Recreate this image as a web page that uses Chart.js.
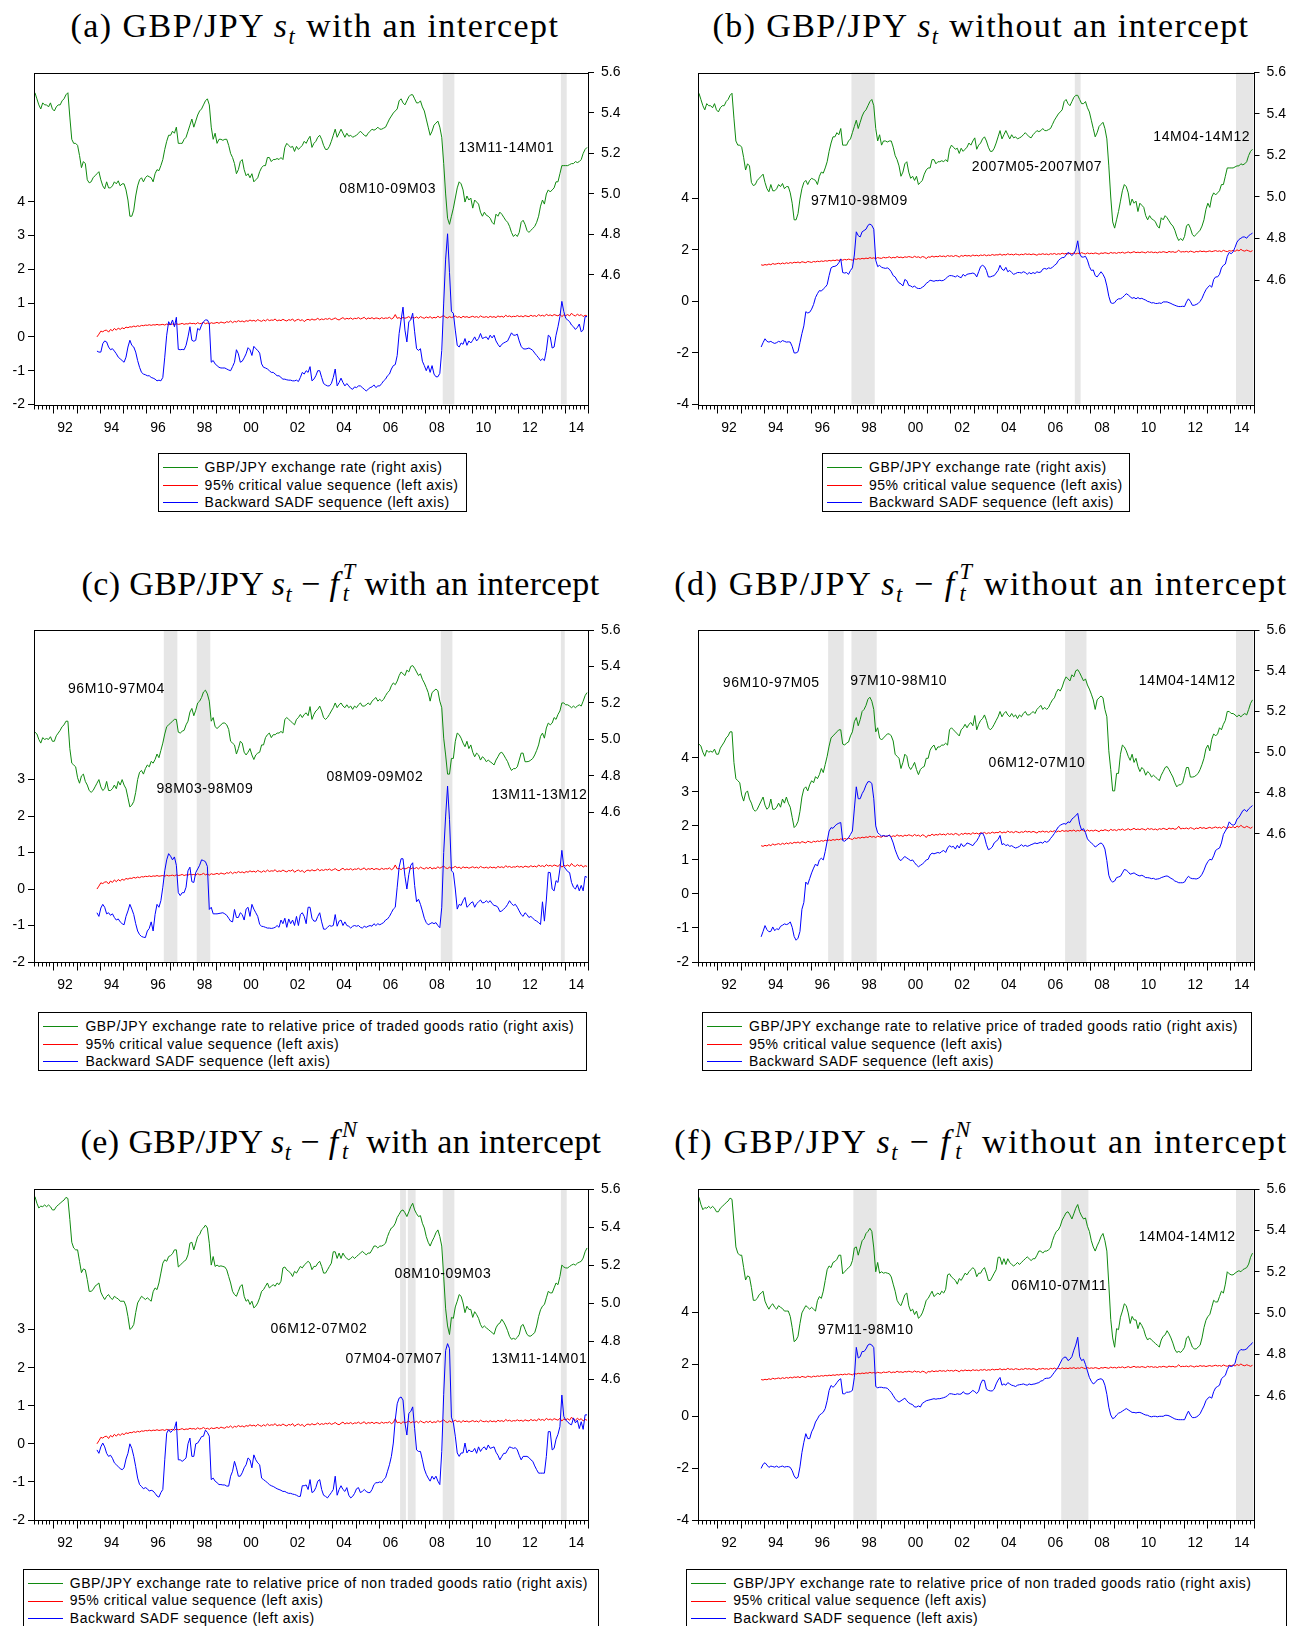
<!DOCTYPE html>
<html>
<head>
<meta charset="utf-8">
<script src="https://cdn.jsdelivr.net/npm/chart.js@4.4.1/dist/chart.umd.min.js"></script>
<style>
  body { margin: 0; width: 1299px; height: 1626px; overflow: hidden; position: relative; background: #fff;
         font-family: "Liberation Sans", Arial, sans-serif; color: #000; }
  canvas { position: absolute; }
  .title { position: absolute; transform: translateX(-50%); white-space: nowrap; height: 40px; line-height: 40px;
           font-family: "Liberation Serif", serif; font-size: 34px; letter-spacing: 1.4px; }
  .title i { font-style: italic; }
  .title sub { font-size: 0.66em; vertical-align: -0.32em; font-style: italic; line-height: 0; }
  .ss { display: inline-flex; flex-direction: column; font-size: 0.66em; line-height: 1; vertical-align: 0.7em;
        font-style: italic; margin-left: 0.16em; }
  .legend { position: absolute; border: 1px solid #000; box-sizing: border-box; background: #fff; }
  .legend .sw { position: absolute; left: 4px; width: 35px; height: 1px; }
  .legend .tx { position: absolute; left: 46px; white-space: nowrap; font-size: 14px; line-height: 16px;
                letter-spacing: 0.5px; transform: translateY(-50%); }
</style>
</head>
<body>
<script>
// monthly GBP/JPY series, 1991M03 - 2014M12 (right axis)
const rateStart = [1991, 3];
const sRate = [
  5.50, 5.47, 5.44, 5.42, 5.45, 5.44, 5.44, 5.43, 5.45, 5.42,
  5.41, 5.43, 5.44, 5.44, 5.46, 5.47, 5.49, 5.50, 5.38, 5.27, 5.25, 5.25,
  5.24, 5.19, 5.13, 5.16, 5.15, 5.07, 5.055, 5.06, 5.08, 5.09, 5.10, 5.11,
  5.07, 5.04, 5.025, 5.06, 5.03, 5.03, 5.04, 5.06, 5.05, 5.065, 5.04, 5.05,
  5.05, 5.02, 4.97, 4.89, 4.89, 4.92, 4.99, 5.04, 5.07, 5.08, 5.06, 5.08,
  5.09, 5.085, 5.08, 5.06, 5.10, 5.12, 5.115, 5.14, 5.17, 5.22, 5.26, 5.29,
  5.29, 5.31, 5.30, 5.33, 5.25, 5.25, 5.25, 5.27, 5.28, 5.31, 5.34, 5.37,
  5.33, 5.36, 5.39, 5.41, 5.42, 5.44, 5.46, 5.47, 5.44, 5.33, 5.27, 5.30,
  5.25, 5.27, 5.27, 5.265, 5.27, 5.27, 5.24, 5.20, 5.18, 5.15, 5.10, 5.12,
  5.16, 5.17, 5.12, 5.09, 5.10, 5.08, 5.10, 5.06, 5.07, 5.08, 5.11, 5.13,
  5.14, 5.14, 5.18, 5.18, 5.16, 5.17, 5.17, 5.175, 5.17, 5.18, 5.17, 5.23,
  5.25, 5.24, 5.23, 5.235, 5.21, 5.235, 5.22, 5.23, 5.24, 5.26, 5.25, 5.27,
  5.285, 5.23, 5.25, 5.26, 5.28, 5.29, 5.27, 5.24, 5.22, 5.22, 5.235, 5.26,
  5.29, 5.32, 5.28, 5.30, 5.32, 5.30, 5.28, 5.30, 5.285, 5.29, 5.28, 5.285,
  5.29, 5.30, 5.31, 5.30, 5.29, 5.285, 5.30, 5.31, 5.32, 5.315, 5.32, 5.33,
  5.32, 5.32, 5.325, 5.33, 5.35, 5.37, 5.385, 5.40, 5.41, 5.42, 5.46, 5.47,
  5.45, 5.44, 5.46, 5.48, 5.49, 5.49, 5.47, 5.45, 5.45, 5.46, 5.43, 5.41,
  5.37, 5.33, 5.29, 5.31, 5.34, 5.35, 5.36, 5.33, 5.28, 5.15, 5.00, 4.88,
  4.85, 4.89, 4.93, 4.98, 5.03, 5.06, 5.05, 5.02, 4.96, 4.99, 4.97, 4.98,
  4.93, 4.97, 4.96, 4.95, 4.91, 4.89, 4.91, 4.895, 4.89, 4.88, 4.86, 4.85,
  4.90, 4.89, 4.91, 4.90, 4.885, 4.87, 4.86, 4.84, 4.81, 4.79, 4.80, 4.79,
  4.81, 4.86, 4.87, 4.85, 4.82, 4.81, 4.82, 4.83, 4.84, 4.86, 4.89, 4.94,
  4.97, 4.95, 5.00, 5.02, 5.01, 5.02, 5.03, 5.06, 5.06, 5.10, 5.14, 5.14,
  5.14, 5.14, 5.145, 5.15, 5.15, 5.16, 5.155, 5.16, 5.17, 5.20, 5.22, 5.23
];
// exchange rate to relative price of traded goods
const sTraded = [
  5.04, 5.03, 5.00, 4.98, 5.01, 5.00, 5.005, 5.00, 5.015, 4.99,
  4.99, 5.02, 5.035, 5.05, 5.07, 5.08, 5.10, 5.10, 4.95, 4.87, 4.86, 4.85,
  4.79, 4.76, 4.80, 4.81, 4.77, 4.75, 4.72, 4.71, 4.72, 4.74, 4.76, 4.78,
  4.74, 4.72, 4.73, 4.77, 4.72, 4.72, 4.73, 4.75, 4.73, 4.77, 4.75, 4.78,
  4.75, 4.73, 4.68, 4.63, 4.64, 4.66, 4.71, 4.78, 4.82, 4.83, 4.81, 4.84,
  4.86, 4.85, 4.88, 4.87, 4.89, 4.92, 4.90, 4.94, 4.98, 5.03, 5.07, 5.08,
  5.09, 5.10, 5.11, 5.11, 5.04, 5.035, 5.045, 5.05, 5.08, 5.10, 5.15, 5.17,
  5.13, 5.16, 5.20, 5.21, 5.23, 5.26, 5.27, 5.25, 5.21, 5.10, 5.12, 5.07,
  5.06, 5.07, 5.08, 5.09, 5.09, 5.08, 5.055, 4.99, 4.98, 4.97, 4.92, 4.95,
  4.99, 4.98, 4.93, 4.915, 4.93, 4.95, 4.915, 4.89, 4.915, 4.925, 4.93, 4.97,
  4.97, 5.01, 5.026, 5.035, 5.01, 5.026, 5.026, 5.035, 5.035, 5.044, 5.035, 5.11,
  5.12, 5.11, 5.10, 5.09, 5.08, 5.11, 5.12, 5.137, 5.12, 5.137, 5.146, 5.13,
  5.18, 5.11, 5.137, 5.156, 5.165, 5.183, 5.156, 5.12, 5.11, 5.12, 5.137, 5.156,
  5.174, 5.20, 5.174, 5.19, 5.20, 5.183, 5.174, 5.19, 5.174, 5.183, 5.165, 5.183,
  5.174, 5.19, 5.20, 5.183, 5.183, 5.19, 5.20, 5.19, 5.21, 5.22, 5.23, 5.21,
  5.22, 5.21, 5.22, 5.24, 5.257, 5.267, 5.294, 5.31, 5.30, 5.32, 5.35, 5.37,
  5.36, 5.35, 5.38, 5.37, 5.40, 5.405, 5.39, 5.37, 5.35, 5.36, 5.33, 5.31,
  5.285, 5.257, 5.21, 5.257, 5.267, 5.276, 5.267, 5.21, 5.174, 5.007, 4.915, 4.81,
  4.81, 4.896, 4.896, 4.99, 5.035, 5.026, 5.007, 4.98, 4.96, 4.99, 4.95, 4.97,
  4.93, 4.905, 4.925, 4.915, 4.887, 4.905, 4.896, 4.878, 4.887, 4.878, 4.87, 4.86,
  4.887, 4.905, 4.925, 4.93, 4.915, 4.896, 4.878, 4.85, 4.83, 4.84, 4.84, 4.85,
  4.887, 4.925, 4.925, 4.878, 4.878, 4.88, 4.887, 4.896, 4.915, 4.94, 4.97, 5.017,
  5.035, 5.007, 5.063, 5.09, 5.08, 5.09, 5.12, 5.11, 5.137, 5.156, 5.20, 5.20,
  5.19, 5.19, 5.183, 5.174, 5.183, 5.174, 5.183, 5.19, 5.183, 5.21, 5.24, 5.257
];
// exchange rate to relative price of non traded goods
const sNonTraded = [
  5.56, 5.525, 5.50, 5.51, 5.507, 5.516, 5.507, 5.516, 5.507, 5.49,
  5.49, 5.507, 5.516, 5.525, 5.534, 5.542, 5.556, 5.55, 5.44, 5.32, 5.29, 5.28,
  5.28, 5.22, 5.16, 5.18, 5.175, 5.124, 5.062, 5.062, 5.071, 5.089, 5.097, 5.106,
  5.058, 5.036, 5.019, 5.036, 5.045, 5.028, 5.019, 5.036, 5.028, 5.022, 5.01, 5.01,
  5.01, 4.984, 4.93, 4.862, 4.87, 4.888, 4.95, 5.001, 5.019, 5.036, 5.028, 5.019,
  5.028, 5.019, 5.01, 5.06, 5.08, 5.071, 5.106, 5.158, 5.21, 5.228, 5.22, 5.245,
  5.25, 5.26, 5.28, 5.28, 5.19, 5.2, 5.21, 5.22, 5.228, 5.254, 5.315, 5.32,
  5.28, 5.315, 5.35, 5.36, 5.385, 5.395, 5.41, 5.395, 5.315, 5.2, 5.245, 5.193,
  5.2, 5.193, 5.196, 5.193, 5.19, 5.175, 5.14, 5.106, 5.062, 5.045, 5.036, 5.062,
  5.089, 5.097, 5.036, 5.01, 5.019, 4.993, 5.01, 4.975, 4.984, 5.001, 5.028, 5.062,
  5.071, 5.089, 5.106, 5.08, 5.089, 5.097, 5.089, 5.106, 5.097, 5.115, 5.185, 5.19,
  5.175, 5.167, 5.158, 5.14, 5.167, 5.158, 5.175, 5.193, 5.185, 5.2, 5.21, 5.22,
  5.21, 5.176, 5.193, 5.193, 5.21, 5.22, 5.193, 5.158, 5.158, 5.175, 5.193, 5.21,
  5.27, 5.27, 5.235, 5.263, 5.235, 5.263, 5.245, 5.235, 5.228, 5.235, 5.245, 5.235,
  5.245, 5.254, 5.263, 5.272, 5.263, 5.254, 5.263, 5.263, 5.28, 5.30, 5.30, 5.29,
  5.30, 5.30, 5.306, 5.315, 5.35, 5.376, 5.395, 5.402, 5.42, 5.45, 5.467, 5.485,
  5.49, 5.475, 5.455, 5.48, 5.507, 5.525, 5.49, 5.47, 5.455, 5.46, 5.42, 5.395,
  5.35, 5.32, 5.30, 5.325, 5.345, 5.37, 5.385, 5.35, 5.30, 5.14, 4.97, 4.88,
  4.835, 4.925, 4.92, 4.98, 5.01, 5.045, 5.036, 5.001, 4.95, 4.984, 4.967, 4.967,
  4.925, 4.955, 4.94, 4.92, 4.888, 4.87, 4.88, 4.87, 4.862, 4.853, 4.845, 4.836,
  4.87, 4.888, 4.895, 4.915, 4.9, 4.88, 4.855, 4.825, 4.81, 4.815, 4.81, 4.82,
  4.835, 4.88, 4.888, 4.862, 4.836, 4.827, 4.827, 4.836, 4.845, 4.88, 4.93, 4.965,
  4.984, 4.993, 5.028, 5.062, 5.054, 5.054, 5.08, 5.106, 5.097, 5.14, 5.2, 5.19,
  5.185, 5.185, 5.193, 5.2, 5.205, 5.2, 5.21, 5.215, 5.22, 5.237, 5.27, 5.29
];

// recursive test sequences, 1993M11 - 2014M12 (left axis)
const testStart = [1993, 11];
const cvWithIntercept = [
  0.0, 0.08,
  0.17, 0.15, 0.19, 0.2, 0.14, 0.22, 0.18, 0.25, 0.2, 0.26, 0.22, 0.27,
  0.24, 0.29, 0.27, 0.3, 0.29, 0.32, 0.3, 0.33, 0.31, 0.34, 0.33, 0.35,
  0.34, 0.36, 0.34, 0.36, 0.35, 0.37, 0.35, 0.36, 0.37, 0.35, 0.38, 0.36,
  0.37, 0.38, 0.36, 0.39, 0.37, 0.38, 0.4, 0.37, 0.39, 0.38, 0.41, 0.39,
  0.4, 0.38, 0.42, 0.39, 0.4, 0.43, 0.39, 0.41, 0.38, 0.42, 0.4, 0.41,
  0.43, 0.4, 0.44, 0.42, 0.41, 0.45, 0.43, 0.47, 0.42, 0.46, 0.44, 0.48,
  0.45, 0.47, 0.44, 0.48, 0.46, 0.5, 0.47, 0.49, 0.46, 0.51, 0.48, 0.46,
  0.5, 0.47, 0.52, 0.48, 0.5, 0.49, 0.53, 0.47, 0.5, 0.48, 0.52, 0.49,
  0.47, 0.51, 0.49, 0.53, 0.46, 0.5, 0.52, 0.48, 0.51, 0.45, 0.5, 0.52,
  0.49, 0.53, 0.5, 0.51, 0.55, 0.5, 0.53, 0.51, 0.54, 0.52, 0.55, 0.51,
  0.53, 0.56, 0.52, 0.5, 0.54, 0.57, 0.52, 0.55, 0.53, 0.56, 0.52, 0.55,
  0.54, 0.57, 0.53, 0.55, 0.58, 0.52, 0.56, 0.54, 0.57, 0.53, 0.56, 0.55,
  0.53, 0.57, 0.54, 0.56, 0.55, 0.58, 0.53, 0.56, 0.66, 0.55, 0.57, 0.53,
  0.58, 0.55, 0.57, 0.6, 0.55, 0.58, 0.56, 0.59, 0.55, 0.6, 0.57, 0.55,
  0.59, 0.56, 0.6, 0.55, 0.58, 0.56, 0.61, 0.57, 0.6, 0.63, 0.58, 0.56,
  0.6, 0.57, 0.59, 0.62, 0.58, 0.6, 0.56, 0.61, 0.58, 0.6, 0.57, 0.59,
  0.61, 0.58, 0.6, 0.57, 0.62, 0.59, 0.58, 0.6, 0.57, 0.61, 0.58, 0.6,
  0.57, 0.62, 0.59, 0.61, 0.58, 0.64, 0.6, 0.62, 0.59, 0.61, 0.6, 0.63,
  0.6, 0.62, 0.59, 0.63, 0.61, 0.6, 0.64, 0.61, 0.63, 0.6, 0.66, 0.62,
  0.64, 0.61, 0.67, 0.63, 0.65, 0.62, 0.66, 0.64, 0.62, 0.67, 0.6, 0.65,
  0.63, 0.66, 0.62, 0.7, 0.64, 0.62, 0.67, 0.63, 0.66, 0.6, 0.64, 0.62
];
const cvNoIntercept = [
  1.42, 1.40,
  1.43, 1.41, 1.45, 1.42, 1.47, 1.44, 1.46, 1.48, 1.45, 1.49, 1.46, 1.5,
  1.47, 1.51, 1.48, 1.52, 1.5, 1.53, 1.49, 1.54, 1.52, 1.5, 1.55, 1.53,
  1.51, 1.55, 1.53, 1.56, 1.54, 1.57, 1.55, 1.58, 1.56, 1.59, 1.57, 1.6,
  1.58, 1.61, 1.59, 1.62, 1.6, 1.63, 1.61, 1.64, 1.62, 1.6, 1.65, 1.63,
  1.66, 1.64, 1.67, 1.65, 1.68, 1.66, 1.7, 1.67, 1.69, 1.66, 1.7, 1.68,
  1.67, 1.71, 1.69, 1.7, 1.73, 1.68, 1.71, 1.69, 1.74, 1.7, 1.72, 1.69,
  1.73, 1.71, 1.74, 1.72, 1.7, 1.75, 1.71, 1.73, 1.69, 1.74, 1.72, 1.66,
  1.73, 1.71, 1.76, 1.72, 1.75, 1.73, 1.77, 1.74, 1.76, 1.73, 1.78, 1.75,
  1.77, 1.74, 1.78, 1.76, 1.72, 1.78, 1.75, 1.79, 1.76, 1.78, 1.75, 1.8,
  1.77, 1.79, 1.76, 1.8, 1.78, 1.81, 1.77, 1.8, 1.78, 1.82, 1.79, 1.81,
  1.8, 1.84, 1.79, 1.82, 1.8, 1.85, 1.81, 1.83, 1.8, 1.84, 1.82, 1.8,
  1.83, 1.81, 1.85, 1.82, 1.84, 1.81, 1.84, 1.82, 1.79, 1.84, 1.82, 1.85,
  1.82, 1.84, 1.81, 1.85, 1.83, 1.86, 1.82, 1.85, 1.83, 1.87, 1.84, 1.86,
  1.84, 1.87, 1.85, 1.88, 1.84, 1.87, 1.85, 1.89, 1.86, 1.84, 1.88, 1.85,
  1.87, 1.85, 1.88, 1.86, 1.83, 1.88, 1.86, 1.89, 1.87, 1.85, 1.9, 1.87,
  1.89, 1.86, 1.9, 1.88, 1.91, 1.87, 1.89, 1.92, 1.88, 1.9, 1.93, 1.89,
  1.91, 1.89, 1.92, 1.9, 1.88, 1.93, 1.9, 1.92, 1.89, 1.91, 1.88, 1.92,
  1.9, 1.93, 1.91, 1.89, 1.94, 1.91, 1.93, 1.9, 1.92, 1.99, 1.91, 1.93,
  1.92, 1.94, 1.91, 1.95, 1.93, 1.9, 1.94, 1.92, 1.96, 1.93, 1.95, 1.92,
  1.94, 1.96, 1.93, 1.95, 1.97, 1.94, 1.96, 1.93, 1.98, 1.95, 1.93, 1.97,
  1.95, 1.98, 1.94, 2.0, 1.96, 2.02, 1.97, 1.95, 1.99, 1.96, 1.93, 1.97
];

const bsadfA = [
  -0.42, -0.45,
  -0.45, -0.2, -0.12, -0.15, -0.3, -0.38, -0.35, -0.42, -0.5, -0.6, -0.65, -0.7,
  -0.75, -0.6, -0.3, -0.1, -0.25, -0.3, -0.45, -0.7, -0.9, -1.05, -1.1, -1.12,
  -1.15, -1.15, -1.2, -1.22, -1.25, -1.3, -1.28, -1.3, -1.2, -0.6, 0.05, 0.45,
  0.35, 0.5, 0.3, 0.58, -0.37, -0.38, -0.37, -0.38, -0.25, 0.0, 0.3, -0.1,
  -0.13, -0.1, 0.25, 0.2, 0.35, 0.45, 0.5, 0.5, 0.4, -0.75, -0.7, -0.8,
  -0.85, -0.9, -0.92, -0.92, -0.92, -0.95, -0.98, -1.0, -0.88, -0.75, -0.38, -0.5,
  -0.75, -0.72, -0.62, -0.5, -0.32, -0.38, -0.55, -0.28, -0.35, -0.4, -0.48, -0.8,
  -0.9, -0.92, -0.95, -1.0, -1.05, -1.05, -1.1, -1.15, -1.15, -1.2, -1.25, -1.25,
  -1.27, -1.28, -1.28, -1.3, -1.3, -1.28, -1.32, -1.2, -1.05, -1.1, -1.0, -1.05,
  -0.88, -1.3, -1.25, -1.15, -1.0, -1.0, -1.2, -1.38, -1.42, -1.45, -1.45, -1.38,
  -1.2, -0.95, -1.45, -1.35, -1.22, -1.35, -1.45, -1.38, -1.45, -1.52, -1.55, -1.48,
  -1.5, -1.45, -1.45, -1.5, -1.55, -1.6, -1.55, -1.5, -1.48, -1.42, -1.5, -1.45,
  -1.45, -1.38, -1.3, -1.25, -1.15, -1.1, -0.95, -0.85, -0.82, -0.55, 0.1, 0.5,
  0.88, 0.2, -0.15, 0.45, 0.5, 0.7, 0.15, -0.35, -0.4, -0.35, -0.72, -0.85,
  -1.0, -0.85, -1.05, -0.85, -1.1, -1.18, -1.18, -1.08, -0.4, 1.0, 2.3, 3.05,
  1.9, 0.75, 0.7, 0.2, -0.25, -0.3, -0.18, -0.22, -0.05, -0.25, -0.12, -0.18,
  -0.1, 0.0, -0.12, -0.05, 0.1, -0.05, -0.02, 0.0, -0.08, 0.05, -0.03, 0.05,
  -0.12, -0.22, -0.3, -0.22, -0.18, -0.15, -0.12, 0.0, 0.12, 0.05, 0.05, 0.08,
  -0.12, -0.28, -0.35, -0.36, -0.35, -0.33, -0.36, -0.4, -0.48, -0.55, -0.62, -0.7,
  -0.65, -0.7, -0.4, 0.05, 0.0, -0.33, -0.3, 0.05, 0.3, 0.6, 1.05, 0.75,
  0.55, 0.5, 0.45, 0.35, 0.3, 0.22, 0.28, 0.38, 0.15, 0.2, 0.6, 0.6
];
const bsadfB = [
  -1.77, -1.6,
  -1.45, -1.55, -1.58, -1.55, -1.6, -1.63, -1.6, -1.55, -1.58, -1.52, -1.55, -1.58,
  -1.57, -1.58, -1.75, -2.0, -2.0, -1.95, -1.6, -1.25, -0.95, -0.4, -0.45, -0.42,
  -0.3, -0.12, 0.15, 0.3, 0.42, 0.4, 0.48, 0.55, 0.65, 1.0, 1.3, 1.35,
  1.36, 1.4, 1.5, 1.65, 1.12, 1.1, 1.12, 1.05, 1.2, 1.3, 1.8, 2.7,
  2.55, 2.5, 2.7, 2.75, 2.8, 2.95, 3.0, 2.95, 2.8, 1.6, 1.35, 1.4,
  1.32, 1.3, 1.28, 1.3, 1.25, 1.15, 1.0, 0.95, 0.82, 0.72, 0.68, 0.6,
  0.85, 0.8, 0.62, 0.6, 0.55, 0.6, 0.52, 0.5, 0.5, 0.55, 0.6, 0.7,
  0.75, 0.82, 0.8, 0.78, 0.81, 0.8, 0.82, 0.8, 0.82, 0.88, 0.95, 1.0,
  1.0, 0.98, 0.95, 1.0, 0.95, 0.92, 1.05, 0.98, 1.05, 1.07, 1.08, 1.1,
  1.07, 0.95, 1.15, 1.35, 1.4, 1.35, 1.2, 0.95, 0.95, 0.98, 1.0, 1.1,
  1.2, 1.4, 1.25, 1.2, 1.32, 1.15, 1.2, 1.12, 1.05, 1.08, 1.12, 1.12,
  1.1, 1.15, 1.12, 1.05, 1.12, 1.07, 1.12, 1.08, 1.15, 1.12, 1.14, 1.25,
  1.28, 1.25, 1.3, 1.28, 1.32, 1.4, 1.45, 1.58, 1.65, 1.7, 1.7, 1.8,
  1.9, 1.85, 1.78, 1.85, 2.0, 2.35, 1.85, 1.72, 1.72, 1.75, 1.6, 1.35,
  1.2, 1.22, 1.0, 0.95, 1.05, 1.15, 1.05, 0.9, 0.6, 0.2, -0.05, -0.08,
  -0.05, 0.05, 0.1, 0.1, 0.15, 0.22, 0.3, 0.25, 0.18, 0.12, 0.15, 0.1,
  0.15, 0.1, 0.12, 0.08, 0.05, 0.0, -0.02, -0.06, -0.05, -0.08, -0.08, -0.06,
  -0.08, -0.02, -0.02, -0.02, -0.05, -0.08, -0.12, -0.15, -0.18, -0.2, -0.2, -0.19,
  -0.2, -0.02, 0.1, 0.0, -0.15, -0.15, -0.12, -0.08, 0.0, 0.12, 0.3, 0.45,
  0.55, 0.62, 0.55, 0.85, 0.95, 0.95, 1.05, 1.3, 1.4, 1.45, 1.75, 1.9,
  1.85, 1.92, 2.1, 2.3, 2.4, 2.45, 2.5, 2.5, 2.45, 2.55, 2.6, 2.65
];
const bsadfC = [
  -0.65, -0.75,
  -0.52, -0.42, -0.5, -0.68, -0.65, -0.72, -0.68, -0.78, -0.85, -0.82, -0.9, -0.95,
  -0.98, -0.75, -0.6, -0.42, -0.55, -0.7, -0.95, -1.15, -1.25, -1.3, -1.32, -1.33,
  -1.15, -1.08, -0.9, -1.15, -0.7, -0.42, -0.5, -0.32, 0.05, 0.5, 0.8, 0.97,
  0.9, 0.8, 0.88, 0.65, -0.1, -0.18, -0.1, -0.1, 0.05, 0.5, 0.6, 0.2,
  0.18, 0.45, 0.55, 0.65, 0.8, 0.78, 0.75, 0.62, -0.56, -0.5, -0.68, -0.68,
  -0.68, -0.67, -0.66, -0.65, -0.68, -0.72, -0.8, -0.88, -0.9, -0.56, -0.78, -0.78,
  -0.65, -0.7, -0.85, -0.55, -0.5, -0.75, -0.42, -0.55, -0.65, -0.75, -0.97, -1.02,
  -1.03, -1.05, -1.07, -1.07, -1.08, -1.07, -1.05, -1.0, -1.05, -0.85, -0.95, -0.8,
  -1.05, -0.82, -0.95, -0.85, -1.0, -0.75, -1.0, -0.7, -0.65, -0.75, -0.95, -0.5,
  -0.5, -0.8, -0.88, -0.88, -0.75, -0.65, -0.9, -1.1, -1.1, -1.05, -1.0, -1.02,
  -1.0, -0.7, -1.02, -0.88, -0.85, -1.0, -0.9, -1.0, -1.02, -1.07, -1.02, -1.0,
  -1.02, -1.0, -1.05, -1.07, -1.02, -1.05, -1.02, -1.0, -1.02, -0.95, -1.0, -0.95,
  -0.98, -0.95, -0.92, -0.85, -0.82, -0.75, -0.65, -0.55, -0.5, 0.05, 0.6, 0.83,
  0.83, 0.35, 0.0, 0.4, 0.65, 0.72, 0.1, -0.35, -0.28, -0.42, -0.6, -0.8,
  -0.92, -0.98, -0.95, -0.92, -0.95, -0.92, -1.0, -1.06, -0.5, 1.0, 2.0, 2.82,
  1.9, 0.5, 0.45, 0.0, -0.55, -0.42, -0.45, -0.32, -0.23, -0.5, -0.45, -0.38,
  -0.35, -0.5, -0.4, -0.35, -0.3, -0.38, -0.37, -0.32, -0.37, -0.32, -0.4, -0.45,
  -0.46, -0.5, -0.62, -0.6, -0.55, -0.5, -0.42, -0.32, -0.4, -0.45, -0.42, -0.5,
  -0.6, -0.7, -0.75, -0.65, -0.7, -0.78, -0.75, -0.8, -0.85, -0.88, -0.92, -0.97,
  -0.35, -0.88, -0.3, 0.46, 0.45, 0.0, -0.05, 0.23, 0.18, 0.55, 1.06, 0.62,
  0.55, 0.48, 0.45, 0.18, 0.05, 0.0, 0.12, -0.05, 0.1, -0.05, 0.35, 0.32
];
const bsadfD = [
  -1.26, -1.1,
  -0.93, -1.05, -1.11, -1.1, -0.97, -1.08, -1.02, -1.05, -0.95, -0.92, -0.88, -0.9,
  -0.88, -0.82, -0.98, -1.25, -1.36, -1.3, -1.1, -0.45, -0.25, 0.35, 0.28, 0.45,
  0.62, 0.76, 0.88, 0.82, 1.0, 1.05, 1.0, 1.25, 1.55, 1.85, 1.95, 1.93,
  2.0, 2.05, 2.08, 2.1, 1.57, 1.55, 1.6, 1.65, 1.75, 1.85, 2.5, 3.15,
  2.8, 2.8, 2.95, 3.05, 3.2, 3.3, 3.3, 3.25, 2.8, 2.0, 1.8, 1.75,
  1.7, 1.72, 1.7, 1.7, 1.73, 1.65, 1.5, 1.3, 1.15, 1.02, 0.98, 1.05,
  1.1, 1.06, 1.02, 0.98, 1.0, 0.92, 0.85, 0.8, 0.84, 0.88, 0.93, 1.0,
  1.02, 1.15, 1.2, 1.18, 1.2, 1.22, 1.2, 1.25, 1.28, 1.22, 1.35, 1.42,
  1.38, 1.4, 1.32, 1.43, 1.35, 1.48, 1.4, 1.42, 1.5, 1.48, 1.45, 1.42,
  1.5, 1.56, 1.66, 1.78, 1.79, 1.68, 1.45, 1.3, 1.33, 1.38, 1.5, 1.55,
  1.6, 1.72, 1.45, 1.48, 1.42, 1.45, 1.4, 1.42, 1.38, 1.35, 1.37, 1.4,
  1.45, 1.4, 1.43, 1.4, 1.42, 1.45, 1.47, 1.5, 1.48, 1.5, 1.52, 1.49,
  1.55, 1.52, 1.55, 1.63, 1.7, 1.78, 1.88, 1.97, 2.02, 2.05, 2.07, 2.05,
  2.12, 2.1, 2.2, 2.25, 2.3, 2.37, 2.05, 1.88, 1.92, 1.8, 1.62, 1.55,
  1.5, 1.45, 1.38, 1.42, 1.47, 1.5, 1.45, 1.32, 0.98, 0.55, 0.4, 0.35,
  0.38, 0.48, 0.5, 0.52, 0.62, 0.72, 0.7, 0.65, 0.58, 0.6, 0.62, 0.58,
  0.55, 0.53, 0.55, 0.52, 0.48, 0.48, 0.47, 0.45, 0.46, 0.43, 0.44, 0.45,
  0.48, 0.5, 0.52, 0.53, 0.5, 0.46, 0.43, 0.38, 0.36, 0.33, 0.33, 0.33,
  0.35, 0.45, 0.52, 0.47, 0.45, 0.45, 0.44, 0.46, 0.5, 0.58, 0.7, 0.85,
  0.95, 1.02, 1.0, 1.12, 1.28, 1.32, 1.35, 1.5, 1.75, 1.85, 1.95, 2.12,
  2.05, 2.02, 2.05, 2.2, 2.25, 2.35, 2.45, 2.48, 2.42, 2.5, 2.55, 2.6
];
const bsadfE = [
  -0.16, -0.25,
  -0.08, 0.02, -0.08, -0.25, -0.33, -0.3, -0.38, -0.5, -0.55, -0.6, -0.65, -0.68,
  -0.63, -0.4, -0.25, 0.0, -0.12, -0.33, -0.6, -0.9, -1.07, -1.12, -1.18, -1.15,
  -1.18, -1.24, -1.22, -1.24, -1.3, -1.37, -1.4, -1.28, -1.2, -0.42, 0.28, 0.37,
  0.3, 0.35, 0.4, 0.58, -0.42, -0.42, -0.46, -0.42, -0.37, 0.0, 0.15, -0.33,
  -0.33, 0.0, 0.02, 0.1, 0.19, 0.2, 0.36, 0.3, 0.2, -0.94, -0.9, -0.98,
  -1.02, -1.07, -1.07, -1.08, -1.08, -1.11, -1.11, -0.85, -0.72, -0.46, -0.63, -0.85,
  -0.85, -0.76, -0.63, -0.55, -0.37, -0.42, -0.63, -0.29, -0.42, -0.5, -0.55, -0.9,
  -0.94, -0.98, -1.02, -1.07, -1.1, -1.12, -1.15, -1.18, -1.2, -1.22, -1.25, -1.25,
  -1.28, -1.3, -1.3, -1.32, -1.33, -1.35, -1.38, -1.38, -1.1, -1.1, -1.08, -1.2,
  -0.94, -1.28, -1.25, -1.15, -0.98, -0.94, -1.2, -1.35, -1.38, -1.42, -1.35, -1.28,
  -1.2, -0.85, -1.35, -1.2, -1.1, -1.2, -1.25, -1.15, -1.35, -1.42, -1.38, -1.3,
  -1.18, -1.15, -1.28, -1.25, -1.2, -1.25, -1.28, -1.28, -1.2, -1.07, -1.02, -1.02,
  -1.0, -1.02, -0.94, -0.89, -0.72, -0.55, -0.33, 0.02, 0.63, 1.05, 1.2, 1.23,
  1.15, 0.55, 0.23, 0.8, 0.85, 0.97, 0.4, -0.16, -0.2, -0.2, -0.42, -0.66,
  -0.8, -0.9, -0.98, -0.85, -0.93, -0.85, -0.98, -1.07, -0.2, 1.3, 2.45, 2.63,
  2.5, 0.7, 0.55, 0.2, -0.24, -0.33, -0.24, -0.24, 0.02, -0.24, -0.16, -0.2,
  -0.2, -0.12, -0.25, -0.08, -0.2, -0.12, -0.08, -0.16, -0.03, -0.12, -0.1, -0.08,
  -0.22, -0.3, -0.42, -0.33, -0.25, -0.25, -0.16, -0.08, -0.1, -0.12, -0.1, -0.16,
  -0.3, -0.42, -0.33, -0.33, -0.33, -0.36, -0.42, -0.46, -0.58, -0.68, -0.77, -0.77,
  -0.77, -0.77, -0.33, 0.32, 0.32, -0.16, -0.12, 0.12, 0.25, 0.45, 1.28, 0.72,
  0.62, 0.58, 0.52, 0.5, 0.68, 0.55, 0.62, 0.4, 0.58, 0.38, 0.76, 0.76
];
const bsadfF = [
  -2.01, -1.85,
  -1.79, -1.88, -1.97, -1.92, -1.94, -1.96, -1.92, -1.97, -1.94, -1.92, -1.96, -1.94,
  -1.94, -1.97, -2.1, -2.3, -2.4, -2.35, -1.95, -1.4, -1.0, -0.67, -0.86, -0.86,
  -0.6, -0.45, -0.22, -0.1, 0.04, 0.1, 0.16, 0.3, 0.6, 1.0, 1.19, 1.12,
  1.19, 1.3, 1.4, 1.45, 0.87, 0.87, 0.93, 0.93, 0.95, 1.0, 1.5, 2.66,
  2.25, 2.3, 2.5, 2.5, 2.6, 2.75, 2.79, 2.75, 2.65, 1.15, 1.1, 1.12,
  1.12, 1.1, 1.1, 1.08, 1.0, 0.92, 0.8, 0.68, 0.6, 0.55, 0.6, 0.65,
  0.7, 0.6, 0.52, 0.48, 0.45, 0.36, 0.36, 0.4, 0.36, 0.5, 0.55, 0.6,
  0.62, 0.64, 0.66, 0.68, 0.66, 0.68, 0.68, 0.7, 0.72, 0.75, 0.8, 0.87,
  0.87, 0.85, 0.84, 0.87, 0.85, 0.86, 0.95, 0.88, 0.86, 0.87, 0.93, 1.0,
  0.95, 0.88, 0.97, 1.25, 1.4, 1.38, 1.05, 1.0, 0.98, 0.98, 1.05, 1.25,
  1.4, 1.5, 1.2, 1.25, 1.2, 1.3, 1.25, 1.2, 1.18, 1.15, 1.2, 1.22,
  1.23, 1.25, 1.22, 1.2, 1.25, 1.22, 1.24, 1.25, 1.28, 1.3, 1.36, 1.38,
  1.45, 1.47, 1.47, 1.5, 1.6, 1.7, 1.8, 1.9, 2.05, 2.2, 2.28, 2.28,
  2.15, 2.2, 2.3, 2.55, 2.75, 3.05, 2.3, 2.15, 2.2, 2.0, 1.75, 1.5,
  1.35, 1.25, 1.3, 1.4, 1.43, 1.45, 1.4, 1.2, 0.85, 0.35, 0.05, -0.09,
  -0.05, 0.05, 0.12, 0.15, 0.2, 0.25, 0.3, 0.25, 0.2, 0.15, 0.15, 0.13,
  0.15, 0.15, 0.12, 0.08, 0.05, 0.04, 0.0, -0.02, 0.0, 0.0, -0.02, 0.0,
  0.0, 0.0, 0.04, 0.04, 0.02, -0.02, -0.06, -0.1, -0.12, -0.13, -0.13, -0.13,
  -0.13, 0.05, 0.2, 0.05, -0.05, -0.05, -0.03, 0.02, 0.1, 0.25, 0.4, 0.6,
  0.7, 0.75, 0.7, 0.95, 1.1, 1.15, 1.2, 1.45, 1.52, 1.58, 1.8, 1.95,
  1.92, 1.95, 2.05, 2.35, 2.5, 2.58, 2.56, 2.57, 2.6, 2.7, 2.75, 2.85
];

// bubble periods [fromYear, fromMonth, toYear, toMonth]
const periodsA = [[2008, 10, 2009, 3], [2013, 11, 2014, 1]];
const periodsB = [[1997, 10, 1998, 9], [2007, 5, 2007, 7], [2014, 4, 2014, 12]];
const periodsC = [[1996, 10, 1997, 4], [1998, 3, 1998, 9], [2008, 9, 2009, 2], [2013, 11, 2013, 12]];
const periodsD = [[1996, 10, 1997, 5], [1997, 10, 1998, 10], [2006, 12, 2007, 10], [2014, 4, 2014, 12]];
const periodsE = [[2006, 12, 2007, 2], [2007, 4, 2007, 7], [2008, 10, 2009, 3], [2013, 11, 2014, 1]];
const periodsF = [[1997, 11, 1998, 10], [2006, 10, 2007, 11], [2014, 4, 2014, 12]];

const yearLabels = ['92', '94', '96', '98', '00', '02', '04', '06', '08', '10', '12', '14'];
const rightTicks = [4.6, 4.8, 5.0, 5.2, 5.4, 5.6];

const GREEN = '#108a10', RED = '#ff0000', BLUE = '#0000ff', SHADE = '#e6e6e6';

function monthly(vals, start) {
  return vals.map((v, i) => ({ x: start[0] + (start[1] - 1 + i + 0.5) / 12, y: v }));
}
function labelYear(lbl) {
  const n = Number(lbl);
  return (n > 50 ? 1900 + n : 2000 + n) + 0.5;
}

const legendTexts = {
  s: 'GBP/JPY exchange rate (right axis)',
  t: 'GBP/JPY exchange rate to relative price of traded goods ratio (right axis)',
  n: 'GBP/JPY exchange rate to relative price of non traded goods ratio (right axis)'
};

const ST = '<i>s</i><sub>t</sub>';
const FT = ST + ' &minus; <i>f</i><span class="ss"><span>T</span><span>t</span></span>';
const FN = ST + ' &minus; <i>f</i><span class="ss"><span>N</span><span>t</span></span>';

// page geometry of the six panels
const cols = [{ left: 0, width: 650, plotL: 34, plotR: 588 }, { left: 650, width: 649, plotL: 698, plotR: 1253.5 }];
const rows = [{ top: 50, height: 400, plotT: 72.5, plotB: 404.5 },
              { top: 600, height: 400, plotT: 630, plotB: 962 },
              { top: 1160, height: 400, plotT: 1189, plotB: 1520 }];

const panels = [
  { col: 0, row: 0, title: '(a) GBP/JPY ' + ST + ' with an intercept', tx: 315, ty: 26, tw: 489,
    rate: sRate, cv: cvWithIntercept, bsadf: bsadfA, periods: periodsA, lMin: -2, lMax: 7.82, lTicks: [-2, -1, 0, 1, 2, 3, 4],
    rMin: 3.96, rMax: 5.6, legend: 's', lg: [157.6, 453, 309, 59],
    notes: [['13M11-14M01', 2011.49, 5.59], ['08M10-09M03', 2006.38, 4.37]] },
  { col: 1, row: 0, title: '(b) GBP/JPY ' + ST + ' without an intercept', tx: 981, ty: 26, tw: 537,
    rate: sRate, cv: cvNoIntercept, bsadf: bsadfB, periods: periodsB, lMin: -4, lMax: 8.88, lTicks: [-4, -2, 0, 2, 4],
    rMin: 4.0, rMax: 5.6, legend: 's', lg: [822, 453, 308, 59],
    notes: [['97M10-98M09', 1998.09, 3.9], ['2007M05-2007M07', 2005.71, 5.19], ['14M04-14M12', 2012.78, 6.38]] },
  { col: 0, row: 1, title: '(c) GBP/JPY ' + FT + ' with an intercept', tx: 340.5, ty: 581, tw: 517,
    rate: sTraded, cv: cvWithIntercept, bsadf: bsadfC, periods: periodsC, lMin: -2, lMax: 7.1, lTicks: [-2, -1, 0, 1, 2, 3],
    rMin: 3.78, rMax: 5.6, legend: 't', lg: [38.4, 1012, 548.4, 59],
    notes: [['96M10-97M04', 1994.71, 5.49], ['98M03-98M09', 1998.52, 2.75], ['08M09-09M02', 2005.83, 3.06], ['13M11-13M12', 2012.91, 2.57]] },
  { col: 1, row: 1, title: '(d) GBP/JPY ' + FT + ' without an intercept', tx: 981, ty: 581, tw: 614,
    rate: sTraded, cv: cvNoIntercept, bsadf: bsadfD, periods: periodsD, lMin: -2, lMax: 7.76, lTicks: [-2, -1, 0, 1, 2, 3, 4],
    rMin: 3.97, rMax: 5.6, legend: 't', lg: [702, 1012, 550, 59],
    notes: [['96M10-97M05', 1994.31, 6.21], ['97M10-98M10', 1999.78, 6.26], ['06M12-07M10', 2005.71, 3.86], ['14M04-14M12', 2012.16, 6.26]] },
  { col: 0, row: 2, title: '(e) GBP/JPY ' + FN + ' with an intercept', tx: 341, ty: 1139, tw: 520,
    rate: sNonTraded, cv: cvWithIntercept, bsadf: bsadfE, periods: periodsE, lMin: -2, lMax: 6.69, lTicks: [-2, -1, 0, 1, 2, 3],
    rMin: 3.86, rMax: 5.6, legend: 'n', lg: [22.8, 1568.5, 576.4, 80],
    notes: [['08M10-09M03', 2008.76, 4.45], ['06M12-07M02', 2003.42, 3.0], ['07M04-07M07', 2006.65, 2.23], ['13M11-14M01', 2012.91, 2.23]] },
  { col: 1, row: 2, title: '(f) GBP/JPY ' + FN + ' without an intercept', tx: 981, ty: 1139, tw: 614,
    rate: sNonTraded, cv: cvNoIntercept, bsadf: bsadfF, periods: periodsF, lMin: -4, lMax: 8.77, lTicks: [-4, -2, 0, 2, 4],
    rMin: 4.0, rMax: 5.6, legend: 'n', lg: [686.3, 1568.5, 600.3, 80],
    notes: [['97M11-98M10', 1998.36, 3.33], ['06M10-07M11', 2006.66, 5.03], ['14M04-14M12', 2012.16, 6.91]] }
];

// grey bubble periods behind the lines
const periodShading = {
  id: 'periodShading',
  beforeDatasetsDraw(chart, args, opts) {
    const { ctx, chartArea: a, scales: { x } } = chart;
    ctx.save();
    ctx.fillStyle = SHADE;
    (opts.periods || []).forEach(([y1, m1, y2, m2]) => {
      const x1 = Math.max(a.left, x.getPixelForValue(y1 + (m1 - 1) / 12));
      const x2 = Math.min(a.right, x.getPixelForValue(y2 + m2 / 12));
      ctx.fillRect(x1, a.top, x2 - x1, a.bottom - a.top);
    });
    ctx.restore();
  }
};

// period labels placed in axis units
const periodNotes = {
  id: 'periodNotes',
  afterDatasetsDraw(chart, args, opts) {
    const { ctx, scales: { x, yL } } = chart;
    ctx.save();
    ctx.font = '14px "Liberation Sans", Arial, sans-serif';
    ctx.fillStyle = '#000';
    ctx.textAlign = 'center';
    ctx.textBaseline = 'middle';
    if ('letterSpacing' in ctx) ctx.letterSpacing = '0.6px';
    (opts.notes || []).forEach(([txt, t, v]) => ctx.fillText(txt, x.getPixelForValue(t), yL.getPixelForValue(v)));
    ctx.restore();
  }
};

// plot frame plus bimonthly tick marks on the date axis
const frameTicks = {
  id: 'frameTicks',
  afterDraw(chart) {
    const { ctx, chartArea: a, scales: { x } } = chart;
    ctx.save();
    ctx.strokeStyle = '#000';
    ctx.lineWidth = 1;
    const l = Math.round(a.left) + 0.5, t = Math.round(a.top) + 0.5;
    const r = Math.round(a.right) + 0.5, b = Math.round(a.bottom) + 0.5;
    ctx.strokeRect(l, t, r - l, b - t);
    ctx.beginPath();
    for (let k = 1991 * 6; k <= 2015 * 6; k++) {
      const yr = k / 6;
      if (yr < x.min - 1e-6 || yr > x.max + 1e-6) continue;
      const px = Math.round(x.getPixelForValue(yr)) + 0.5;
      ctx.moveTo(px, b);
      ctx.lineTo(px, b + (k % 6 === 0 ? 8 : 4));
    }
    ctx.stroke();
    ctx.restore();
  }
};

const tickFont = { family: '"Liberation Sans", Arial, sans-serif', size: 14 };

panels.forEach(p => {
  const c = cols[p.col], r = rows[p.row];

  const title = document.createElement('div');
  title.className = 'title';
  title.innerHTML = p.title;
  title.style.left = p.tx + 'px';
  title.style.top = (p.ty - 20) + 'px';
  document.body.appendChild(title);
  // spread the letters so the heading spans its set width
  const chars = title.textContent.length;
  const natural = title.getBoundingClientRect().width;
  title.style.letterSpacing = (1.4 + (p.tw - natural) / chars).toFixed(2) + 'px';

  const cv = document.createElement('canvas');
  cv.width = c.width; cv.height = r.height;
  cv.style.left = c.left + 'px'; cv.style.top = r.top + 'px';
  cv.style.width = c.width + 'px'; cv.style.height = r.height + 'px';
  document.body.appendChild(cv);

  const leftW = c.plotL - c.left, rightW = c.left + c.width - c.plotR;
  const padTop = r.plotT - r.top, bottomH = r.top + r.height - r.plotB;

  new Chart(cv.getContext('2d'), {
    type: 'line',
    data: {
      datasets: [
        { label: 'Backward SADF sequence (left axis)', data: monthly(p.bsadf, testStart), yAxisID: 'yL',
          borderColor: BLUE, borderWidth: 1, pointRadius: 0, order: 1 },
        { label: '95% critical value sequence (left axis)', data: monthly(p.cv, testStart), yAxisID: 'yL',
          borderColor: RED, borderWidth: 1, pointRadius: 0, order: 2 },
        { label: legendTexts[p.legend], data: monthly(p.rate, rateStart), yAxisID: 'yR',
          borderColor: GREEN, borderWidth: 1, pointRadius: 0, order: 3 }
      ]
    },
    options: {
      responsive: false,
      animation: false,
      events: [],
      layout: { padding: { top: padTop, left: 0, right: 0, bottom: 0 } },
      plugins: {
        legend: { display: false },
        tooltip: { enabled: false },
        periodShading: { periods: p.periods },
        periodNotes: { notes: p.notes }
      },
      scales: {
        x: {
          type: 'linear', min: rateStart[0] + (rateStart[1] - 1) / 12, max: 2015,
          afterBuildTicks: s => { s.ticks = yearLabels.map(l => ({ value: labelYear(l) })); },
          afterFit: s => { s.height = bottomH; },
          grid: { display: false }, border: { display: false },
          ticks: { autoSkip: false, maxRotation: 0, padding: 7, color: '#000', font: tickFont,
                   callback: v => String(Math.floor(v) % 100).padStart(2, '0') }
        },
        yL: {
          position: 'left', min: p.lMin, max: p.lMax,
          afterBuildTicks: s => { s.ticks = p.lTicks.map(v => ({ value: v })); },
          afterFit: s => { s.width = leftW; },
          grid: { drawOnChartArea: false, color: '#000', tickLength: 6 }, border: { display: false },
          ticks: { padding: 3, color: '#000', font: tickFont, callback: v => String(v) }
        },
        yR: {
          position: 'right', min: p.rMin, max: p.rMax,
          afterBuildTicks: s => { s.ticks = rightTicks.map(v => ({ value: v })); },
          afterFit: s => { s.width = rightW; },
          grid: { drawOnChartArea: false, color: '#000', tickLength: 6 }, border: { display: false },
          ticks: { padding: 7, color: '#000', font: tickFont, callback: v => Number(v).toFixed(1) }
        }
      }
    },
    plugins: [periodShading, periodNotes, frameTicks]
  });

  // legend box under the panel
  const [lx, ly, lw, lh] = p.lg;
  const box = document.createElement('div');
  box.className = 'legend';
  Object.assign(box.style, { left: lx + 'px', top: ly + 'px', width: lw + 'px', height: lh + 'px' });
  const entries = [[GREEN, legendTexts[p.legend]], [RED, '95% critical value sequence (left axis)'],
                   [BLUE, 'Backward SADF sequence (left axis)']];
  entries.forEach(([col, txt], i) => {
    const y = 13 + i * 17.7;
    const sw = document.createElement('div');
    sw.className = 'sw';
    sw.style.top = Math.round(y) + 'px';
    sw.style.background = col;
    const tx = document.createElement('div');
    tx.className = 'tx';
    tx.style.top = y + 'px';
    tx.textContent = txt;
    box.appendChild(sw);
    box.appendChild(tx);
  });
  document.body.appendChild(box);
});
</script>
</body>
</html>
